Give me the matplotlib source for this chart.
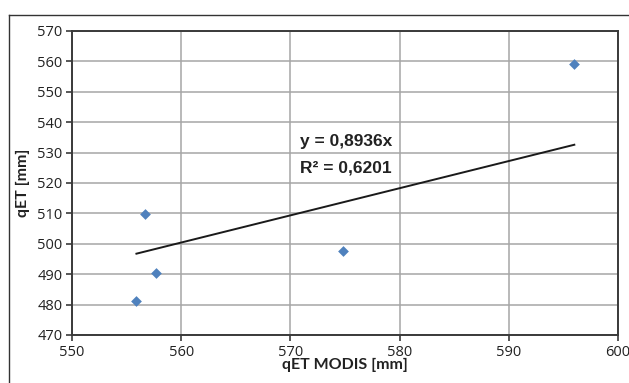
import matplotlib.pyplot as plt
from matplotlib.lines import Line2D
import numpy as np

# values
modis = [555.9, 556.7, 557.7, 574.8, 596.0]
qet = [481.2, 509.8, 490.3, 497.5, 559.3]
slope = 0.8936
r2 = 0.6201

xticks = [550, 560, 570, 580, 590, 600]
yticks = [470, 480, 490, 500, 510, 520, 530, 540, 550, 560, 570]

plt.rcParams['font.family'] = ['Open Sans', 'DejaVu Sans']

fig = plt.figure(figsize=(6.29, 3.83), dpi=100)
ax = fig.add_axes([72 / 629, 1 - 335 / 383, (618 - 72) / 629, (335 - 31) / 383])

ax.scatter(modis, qet, marker='D', s=30, color='#4F81BD', zorder=3, linewidths=0)

x_line = np.array([min(modis), max(modis)])
ax.plot(x_line, slope * x_line, color='#1a1a1a', linewidth=1.4, zorder=2)

eq_font = dict(fontsize=12.5, fontweight='bold', fontstretch='normal',
               family=['Arimo', 'Liberation Sans', 'DejaVu Sans'], color='#222222')
ax.text(570.9, 533.6, 'y = 0,8936x', ha='left', va='center', **eq_font)
ax.text(570.9, 524.9, 'R² = 0,6201', ha='left', va='center', **eq_font)

ax.set_xlim(550, 600)
ax.set_ylim(470, 570)
ax.set_xticks(xticks)
ax.set_yticks(yticks)
ax.grid(True, color='#A6A6A6', linewidth=1.1)
ax.set_axisbelow(True)
for s in ax.spines.values():
    s.set_color('#3a3a3a')
    s.set_linewidth(1.4)
ax.tick_params(direction='out', length=4, width=1.2, color='#3a3a3a',
               labelsize=10.5, labelcolor='#222222', pad=3)

lab_font = dict(fontsize=11.5, fontweight='bold', fontstretch='normal',
                family=['Lato', 'DejaVu Sans'], color='#222222')
ax.set_xlabel('qET MODIS [mm]', va='center', **lab_font)
ax.xaxis.set_label_coords(0.5, -0.1)
ax.set_ylabel('qET [mm]', va='center', **lab_font)
ax.yaxis.set_label_coords(-0.09, 0.5)

# outer chart frame (cut off at right and bottom)
fig.add_artist(Line2D([9 / 629, 1.0], [1 - 15 / 383, 1 - 15 / 383], color='#333333', linewidth=1.0))
fig.add_artist(Line2D([9 / 629, 9 / 629], [0.0, 1 - 15 / 383], color='#333333', linewidth=1.0))

fig.savefig('out.png', dpi=100)
